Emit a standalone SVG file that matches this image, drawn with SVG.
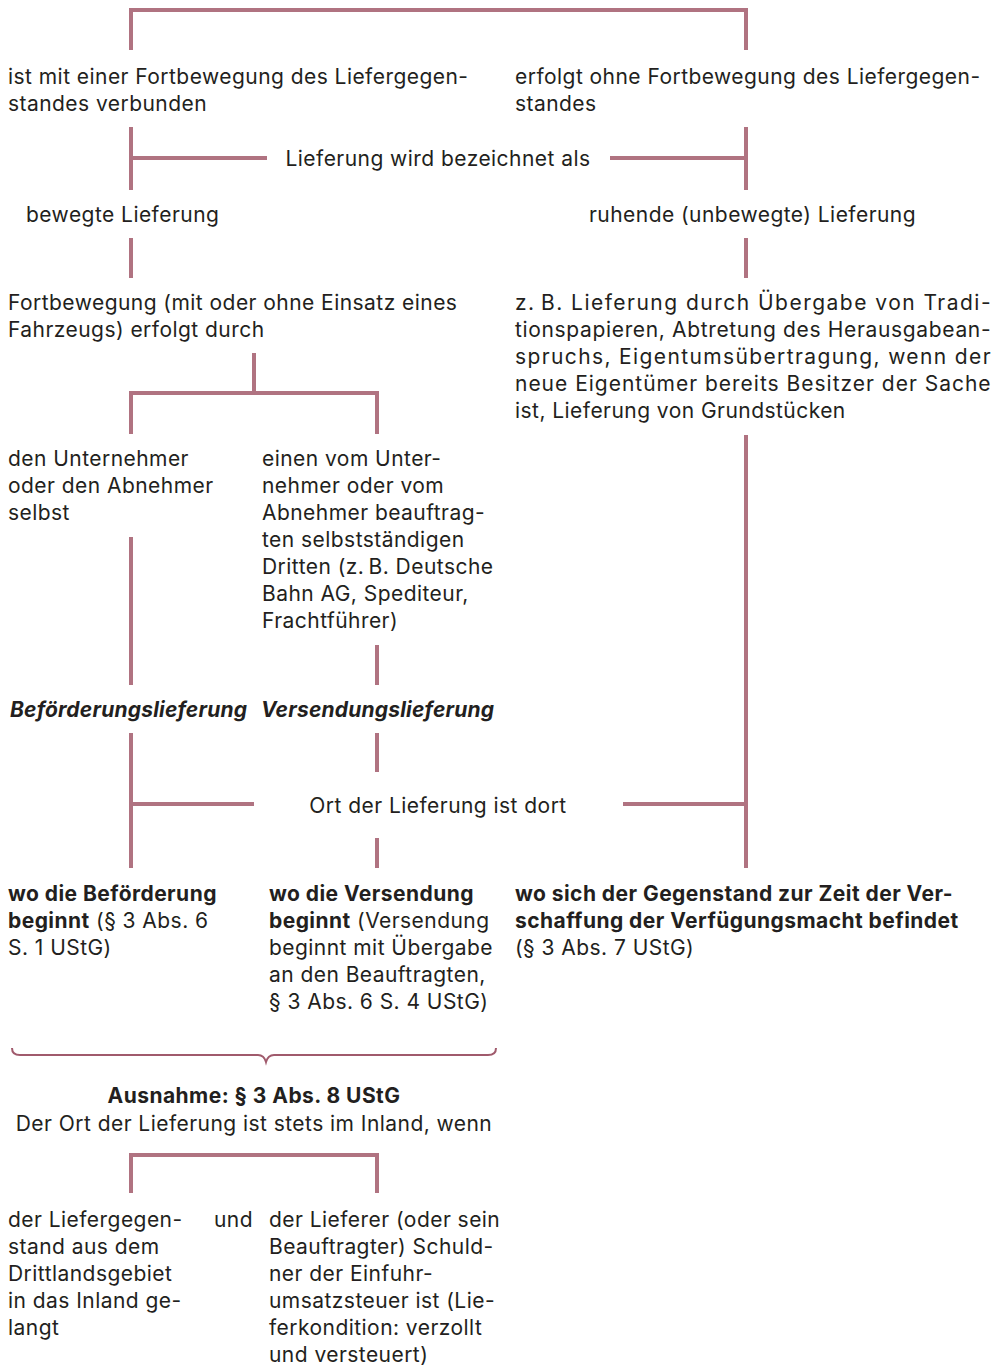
<svg xmlns="http://www.w3.org/2000/svg" width="1001" height="1366" viewBox="0 0 1001 1366">
<style>
text{font-family:Inter,"Liberation Sans",Arial,sans-serif;font-size:21px;letter-spacing:0.45px;fill:#231f20}
.b{font-weight:bold}
.bi{font-weight:bold;font-style:italic;letter-spacing:0.2px}
.c{text-anchor:middle}
.ln{stroke:#b07381;stroke-width:4;fill:none}
.br{stroke:#a05a6c;stroke-width:2;fill:none}
</style>
<rect width="1001" height="1366" fill="#fff"/>
<g id="connectors">
<path class="ln" d="M131 50V10H746V50"/>
<path class="ln" d="M131 127V190M746 127V190M131 158H267M610 158H746"/>
<path class="ln" d="M131 238V278M746 238V278"/>
<path class="ln" d="M254 353V393M131 434V393H377V434"/>
<path class="ln" d="M746 435V868"/>
<path class="ln" d="M131 537V685M377 645V685"/>
<path class="ln" d="M131 733V868M377 733V772M377 838V868M131 804H254M623 804H746"/>
<path class="br" d="M12 1048Q12 1055 20 1055H258Q264 1055 266 1062Q268 1055 274 1055H488Q496 1055 496 1048"/>
<path class="ln" d="M131 1193V1155H377V1193"/>
</g>
<g id="n1"><text x="8" y="84">ist mit einer Fortbewegung des Liefergegen-</text><text x="8" y="111">standes verbunden</text></g>
<g id="n2"><text x="515" y="84">erfolgt ohne Fortbewegung des Liefergegen-</text><text x="515" y="111">standes</text></g>
<g id="n3"><text x="438" y="166" class="c">Lieferung wird bezeichnet als</text></g>
<g id="n4"><text x="26" y="222">bewegte Lieferung</text></g>
<g id="n5"><text x="589" y="222">ruhende (unbewegte) Lieferung</text></g>
<g id="n6"><text x="8" y="310">Fortbewegung (mit oder ohne Einsatz eines</text><text x="8" y="337">Fahrzeugs) erfolgt durch</text></g>
<g id="n7">
<text x="515" y="310" textLength="476" lengthAdjust="spacing">z.&#8201;B. Lieferung durch Übergabe von Tradi-</text>
<text x="515" y="337" textLength="476" lengthAdjust="spacing">tionspapieren, Abtretung des Herausgabean-</text>
<text x="515" y="364" textLength="476" lengthAdjust="spacing">spruchs, Eigentumsübertragung, wenn der</text>
<text x="515" y="391" textLength="476" lengthAdjust="spacing">neue Eigentümer bereits Besitzer der Sache</text>
<text x="515" y="418">ist, Lieferung von Grundstücken</text>
</g>
<g id="n8"><text x="8" y="466">den Unternehmer</text><text x="8" y="493">oder den Abnehmer</text><text x="8" y="520">selbst</text></g>
<g id="n9"><text x="262" y="466">einen vom Unter-</text><text x="262" y="493">nehmer oder vom</text><text x="262" y="520">Abnehmer beauftrag-</text><text x="262" y="547">ten selbstständigen</text><text x="262" y="574">Dritten (z.&#8201;B. Deutsche</text><text x="262" y="601">Bahn AG, Spediteur,</text><text x="262" y="628">Frachtführer)</text></g>
<g id="n10"><text x="10" y="717" class="bi">Beförderungslieferung</text></g>
<g id="n11"><text x="261" y="717" class="bi">Versendungslieferung</text></g>
<g id="n12"><text x="438" y="813" class="c">Ort der Lieferung ist dort</text></g>
<g id="n13"><text x="8" y="901" class="b">wo die Beförderung</text><text x="8" y="928"><tspan class="b">beginnt</tspan> (§ 3 Abs. 6</text><text x="8" y="955">S. 1 UStG)</text></g>
<g id="n14"><text x="269" y="901" class="b">wo die Versendung</text><text x="269" y="928"><tspan class="b">beginnt</tspan> (Versendung</text><text x="269" y="955">beginnt mit Übergabe</text><text x="269" y="982">an den Beauftragten,</text><text x="269" y="1009">§ 3 Abs. 6 S. 4 UStG)</text></g>
<g id="n15"><text x="515" y="901" class="b">wo sich der Gegenstand zur Zeit der Ver-</text><text x="515" y="928" class="b">schaffung der Verfügungsmacht befindet</text><text x="515" y="955">(§ 3 Abs. 7 UStG)</text></g>
<g id="n16"><text x="254" y="1103" class="c b">Ausnahme: § 3 Abs. 8 UStG</text><text x="254" y="1131" class="c">Der Ort der Lieferung ist stets im Inland, wenn</text></g>
<g id="n17"><text x="8" y="1227">der Liefergegen-</text><text x="8" y="1254">stand aus dem</text><text x="8" y="1281">Drittlandsgebiet</text><text x="8" y="1308">in das Inland ge-</text><text x="8" y="1335">langt</text></g>
<g id="n18"><text x="214" y="1227">und</text></g>
<g id="n19"><text x="269" y="1227">der Lieferer (oder sein</text><text x="269" y="1254">Beauftragter) Schuld-</text><text x="269" y="1281">ner der Einfuhr-</text><text x="269" y="1308">umsatzsteuer ist (Lie-</text><text x="269" y="1335">ferkondition: verzollt</text><text x="269" y="1362">und versteuert)</text></g>
</svg>
